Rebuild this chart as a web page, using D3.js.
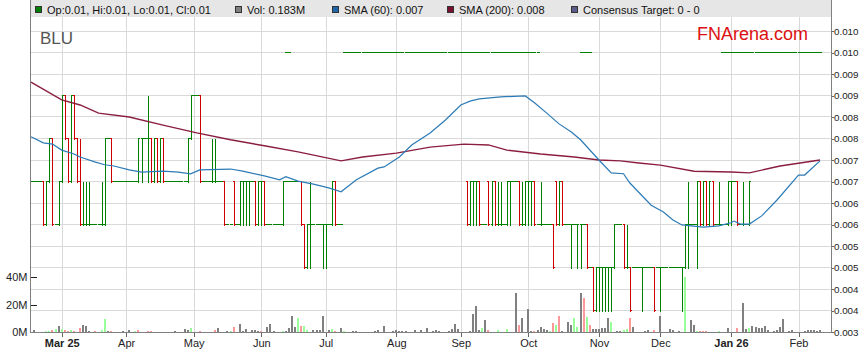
<!DOCTYPE html>
<html><head><meta charset="utf-8">
<script src="https://cdn.jsdelivr.net/npm/d3@7/dist/d3.min.js"></script>
<style>
body{margin:0;background:#fff;}
svg{display:block;font-family:Arial,"Liberation Sans",sans-serif;}
</style>
</head><body>
<svg id="chart" width="859" height="363"></svg>
<script>
// ---------------- DATA ----------------
const firstDay = '2025-02-17', lastDay = '2026-02-11';   // weekday category axis range
const tickDates  = ['2025-03-03','2025-04-01','2025-05-01','2025-06-02','2025-07-01','2025-08-01','2025-09-01','2025-10-01','2025-11-03','2025-12-01','2026-01-01','2026-02-02'];
const tickLabels = ['Mar 25','Apr','May','Jun','Jul','Aug','Sep','Oct','Nov','Dec','Jan 26','Feb'];
const yearLabels = ['Mar 25','Jan 26'];
const priceTicks = [0.0035,0.0040,0.0045,0.0050,0.0055,0.0060,0.0065,0.0070,0.0075,0.0080,0.0085,0.0090,0.0095,0.0100,0.0105];
const volTicks = [0,20,40];            // millions
const priceUnit = 0.001;               // OHLC tuples below are [open, high, low, close] in 0.001

// bars on consecutive weekdays starting 2025-02-17
const barsA = [
[7,7,7,7],[7,7,7,7],[7,7,7,7],[7,7,7,7],[7,7,6,6],[6,7,6,7],[7,8,7,8],[8,8,6,6],[6,6,6,6],[6,7,6,7],
[7,9,7,9],[9,9,8,8],[8,8,7,7],[7,9,7,9],[9,9,8,8],[8,8,7,7],[7,8,6,6],[6,7,6,6],[6,7,6,6],[6,7,6,6],
[6,6,6,6],[6,6,6,6],[6,6,6,6],[6,7,6,6],[6,8,6,8],[8,8,8,8],[8,8,7,7],[7,7,7,7],[7,7,7,7],[7,7,7,7],
[7,7,7,7],[7,7,7,7],[7,7,7,7],[7,7,7,7],[7,7,7,7],[7,8,7,8],[8,8,7,8],[8,8,8,8],[8,9,7,8],[8,8,7,7],
[7,8,7,8],[8,8,7,7],[7,8,7,8],[8,8,7,7],[7,7,7,7],[7,7,7,7],[7,7,7,7],[7,7,7,7],[7,7,7,7],[7,7,7,7],
[7,7,7,7],[7,8,7,8],[8,9,8,9],[9,9,9,9],[9,9,9,9],[9,9,7,7],[7,7,7,7],[7,7,7,7],[7,7,7,7],[7,8,7,7],
[7,8,7,7],[7,7,7,7],[7,7,7,7],[7,7,6,6],[6,6,6,6],[6,6,6,6],[7,7,6,6],[6,6,6,6],[6,7,6,7],[7,7,6,7],
[7,7,6,7],[7,7,6,7],[7,7,7,7],[7,7,6,6],[6,7,6,7],[7,7,6,7],[7,7,6,6],[6,6,6,6],[6,6,6,6],[6,6,6,6],
[6,6,6,6],[6,6,6,6],[6,7,6,7],[7,7,7,7],[7,7,7,7],[7,7,7,7],[7,7,7,7],[7,7,7,7],[7,7,6,6],[6,6,5,5],
[5,6,5,6],[6,7,5,6],[6,6,6,6],[6,6,6,6],[6,6,6,6],[6,6,5,6],[6,6,5,6],[6,6,6,6],[6,7,6,7],[7,7,6,6],
[6,6,6,6],[6,6,6,6]
];
const barsAStart = '2025-02-17';
// bars on consecutive weekdays starting 2025-09-03
const barsB = [
[7,7,6,6],[6,7,6,7],[7,7,6,7],[7,7,6,7],[7,7,6,6],[6,6,6,6],[6,6,6,6],[7,7,6,6],[6,7,6,7],[7,7,6,6],
[6,7,6,6],[6,7,6,6],[6,6,6,6],[6,7,6,7],[7,7,6,7],[7,7,7,7],[7,7,7,7],[7,7,6,6],[6,7,6,6],[6,7,6,7],
[7,7,6,7],[7,7,6,7],[7,7,6,6],[6,6,6,6],[6,7,6,6],[6,6,6,6],[6,6,6,6],[6,6,6,6],[6,6,5,5],[7,7,6,6],
[6,7,6,7],[7,7,6,6],[6,6,6,6],[6,6,6,6],[6,6,5,6],[6,6,6,6],[6,6,5,6],[6,6,5,6],[6,6,6,6],[6,6,5,5],
[5,5,5,5],[5,5,4,4],[4,5,4,5],[5,5,4,5],[5,5,4,5],[5,5,4,5],[5,5,4,5],[5,5,4,5],[5,6,5,6],[6,6,6,6],
[6,6,6,6],[6,6,5,5],[5,6,5,5],[5,5,4,4],[5,5,5,5],[5,5,5,5],[5,5,5,5],[5,5,4,5],[5,5,5,5],[5,5,5,5],
[5,5,5,5],[5,5,4,4],[5,5,5,5],[5,5,4,5],[5,5,5,5],[5,5,5,5],[5,5,5,5],[5,5,5,5],[5,5,5,5],[5,5,5,5],
[5,5,4,5],[5,6,5,6],[6,7,5,6],[6,6,6,6],[6,6,6,6],[6,7,5,7],[7,7,6,6],[6,7,6,7],[7,7,6,6],[6,7,6,7],
[7,7,6,6],[6,6,6,6],[6,7,6,6],[6,6,6,6],[6,6,6,6],[6,7,6,7],[7,7,6,7],[7,7,7,7],[7,7,6,6],[6,6,6,6],
[6,7,6,6],[6,6,6,6],[6,7,6,7]
];
const barsBStart = '2025-09-03';
// flat bars quoted at 0.010 (rounded feed), weekday ranges
const flatRanges = [['2025-06-12','2025-06-13'],['2025-07-09','2025-10-06'],['2025-10-24','2025-10-29'],['2025-12-29','2026-02-11']];
const flatPrice = 0.010;

// volume (millions), one value per weekday from 2025-02-17
const volume = [
0,1.5,0,0,0,0.7,0.7,1.5,2.2,4.1,
2.2,1.2,1.0,1.5,1.0,0,2.9,5.3,4.1,0.7,
0,1.0,0,1.5,9.2,0.7,0.7,0,0,0,
0.7,0,1.5,0,0.7,1.5,0,0,0.7,0.7,
0,0,0,0,0,0,0,0.7,0,0,
2.2,1.2,2.9,0,0,0.7,0,0,0,0,
1.5,2.9,0,0,0.7,0.7,3.6,0,5.6,1.0,
2.2,0,1.5,1.5,1.0,0.7,0,3.9,5.8,1.0,
0,0,0.7,1.0,2.9,11.4,3.6,10.2,4.4,4.4,
1.5,0,1.6,1.8,1.8,11.4,0,1.7,2.2,0.7,
0,2.7,0.7,0,0,0.7,0.7,0,0,0,
0,0,0.7,1.5,0,4.1,0,0,0.7,1.2,
0.7,0.7,0.7,0,0,1.5,0,1.5,0,2.9,
0,0.7,1.7,0.7,0,0,0.7,1.9,5.6,1.9,
0,0,0,0.5,12.8,18.7,1.7,2.7,8.5,1.5,
0,0,1.5,0,0,1.9,0,0,28.5,4.8,
9.9,0,16.5,0.7,1.0,1.7,3.4,2.4,1.7,0.5,
6.3,4.8,11.4,0.7,0,7.0,4.8,9.9,3.4,28.5,
25,10.7,4.8,2.4,2.4,2.4,2.9,2.9,10.2,7.3,
0,0.7,0.7,1.2,1.9,10.2,3.4,0,0,0,
0.7,1.2,0,1.2,0,11.4,0,0,1.9,1.2,
0,0.7,0,40,0,9.0,4.8,0.7,0.7,0.7,
0.7,0,0,0,0.7,0,0,2.9,0,0,
2.9,0,21,1.9,3.1,4.4,3.6,3.1,2.7,4.1,
1.5,0,0.7,1.7,3.4,9.2,0,0.7,1.5,0,
0,0,0.7,1.5,1.5,1.5,0.7,1.5
];
// day direction for volume colouring: 1 up, -1 down, 0 unchanged
const volDir = [
0,0,0,0,0,1,1,-1,1,0,
1,-1,-1,1,-1,0,-1,0,0,0,
0,-1,0,1,1,0,-1,0,0,0,
0,0,0,0,1,-1,0,0,-1,-1,
0,0,0,0,0,0,0,0,0,0,
0,0,1,0,0,-1,0,0,0,0,
-1,0,0,0,0,1,-1,0,0,0,
0,0,0,0,0,-1,0,0,0,0,
0,0,1,0,0,0,0,1,-1,1,
1,0,0,0,0,0,0,0,1,-1,
0,0,1,0,0,0,0,0,0,0,
0,0,0,0,0,0,0,0,0,0,
0,0,0,0,0,0,0,0,0,0,
0,0,0,0,0,0,0,0,0,0,
0,0,0,0,0,0,0,1,0,-1,
0,0,1,0,0,1,0,0,0,-1,
0,0,0,0,-1,0,0,0,0,1,
-1,1,-1,0,0,0,0,1,1,0,
-1,1,-1,0,0,0,0,0,0,1,
0,0,0,1,1,-1,0,0,0,0,
0,0,0,-1,0,0,0,0,0,0,
0,0,0,1,0,0,0,1,-1,-1,
-1,0,0,0,1,0,0,0,0,0,
-1,0,0,0,1,0,0,0,0,0,
0,0,0,0,0,0,0,0,0,0,
0,0,0,0,0,0,0,0
];

const sma200Dates = ['2025-02-17','2025-03-03','2025-03-11','2025-03-19','2025-04-02','2025-04-17','2025-05-02','2025-05-19','2025-06-03','2025-06-18','2025-07-08','2025-07-17','2025-08-01','2025-08-18','2025-09-02','2025-09-12','2025-09-22','2025-10-07','2025-10-22','2025-11-03','2025-11-12','2025-11-20','2025-12-01','2025-12-16','2026-01-01','2026-01-09','2026-01-23','2026-02-11'];
const sma200 = [0.00931,0.00890,0.00878,0.00859,0.00850,0.00831,0.00813,0.00797,0.00783,0.00769,0.00748,0.00757,0.00766,0.00780,0.00787,0.00785,0.00773,0.00764,0.00757,0.00750,0.00748,0.00743,0.00738,0.00724,0.00722,0.00720,0.00736,0.00750];

const sma60Dates = ['2025-02-17','2025-02-21','2025-02-26','2025-03-03','2025-03-07','2025-03-11','2025-03-18','2025-03-21','2025-03-26','2025-04-02','2025-04-08','2025-04-17','2025-04-24','2025-04-30','2025-05-05','2025-05-19','2025-05-23','2025-06-03','2025-06-10','2025-06-12','2025-06-18','2025-06-25','2025-07-02','2025-07-08','2025-07-15','2025-07-24','2025-07-28','2025-08-04','2025-08-08','2025-08-18','2025-08-25','2025-09-01','2025-09-04','2025-09-09','2025-09-18','2025-09-30','2025-10-03','2025-10-09','2025-10-15','2025-10-21','2025-10-24','2025-11-03','2025-11-07','2025-11-13','2025-11-17','2025-11-26','2025-12-02','2025-12-05','2025-12-10','2025-12-19','2025-12-26','2026-01-01','2026-01-02','2026-01-06','2026-01-09','2026-01-15','2026-01-22','2026-02-02','2026-02-04','2026-02-11'];
const sma60 = [0.00804,0.00790,0.00787,0.00773,0.00764,0.00757,0.00745,0.00739,0.00736,0.00727,0.00722,0.00724,0.00722,0.00718,0.00727,0.00729,0.00724,0.00713,0.00704,0.00711,0.00701,0.00694,0.00685,0.00676,0.00704,0.00731,0.00734,0.00757,0.00785,0.00813,0.00843,0.00878,0.00887,0.00892,0.00897,0.00899,0.00883,0.00859,0.00834,0.00815,0.00797,0.00750,0.00720,0.00718,0.00697,0.00645,0.00629,0.00611,0.00599,0.00594,0.00597,0.00604,0.00608,0.00601,0.00601,0.00620,0.00657,0.00715,0.00715,0.00748];

const legendItems = ['Op:0.01, Hi:0.01, Lo:0.01, Cl:0.01','Vol: 0.183M','SMA (60): 0.007','SMA (200): 0.008','Consensus Target: 0 - 0'];
const ticker = 'BLU';
const brand = 'FNArena.com';

// ---------------- LAYOUT ----------------
const L = 30, R = 831, TOP = 17, BASE = 332;
const C = {green:'#008000', red:'#cc0000', grid:'#d9d9d9', sma60:'#2c7bb6', sma200:'#8b1e3f',
  volN:'#808080', volU:'#99ff99', volD:'#ff9999', band:'#e6e6e6', axis:'#808080', text:'#222'};
const legendColors = [C.green, C.volN, '#1f66a8', '#7a1030', '#5c5c8a'];
const legendX = [35, 235, 332, 447, 571];

// weekday categories
const weekdays = [];
{
  const a = new Date(firstDay + 'T00:00:00Z'), b = new Date(lastDay + 'T00:00:00Z');
  for (let d = new Date(a); d <= b; d.setUTCDate(d.getUTCDate() + 1)) {
    const w = d.getUTCDay();
    if (w !== 0 && w !== 6) weekdays.push(d.toISOString().slice(0, 10));
  }
}
const dayIndex = new Map(weekdays.map((d, i) => [d, i]));

const x = d3.scaleLinear().domain([0, weekdays.length - 1]).range([31, 820]);
const y = d3.scaleLinear().domain([0.0035, 0.0105]).range([BASE, 31]);
const yv = d3.scaleLinear().domain([0, 40]).range([BASE, 277]);

const svg = d3.select('#chart');

// legend band
svg.append('rect').attr('x', L).attr('y', 0).attr('width', R - L).attr('height', TOP).attr('fill', C.band);

// grid
const g = svg.append('g').attr('shape-rendering', 'crispEdges');
g.selectAll('.hg').data(priceTicks).join('line')
  .attr('x1', L).attr('x2', R)
  .attr('y1', d => Math.floor(y(d)) + 0.5).attr('y2', d => Math.floor(y(d)) + 0.5)
  .attr('stroke', C.grid);
const tickIdx = tickDates.map(d => dayIndex.get(d));
g.selectAll('.vg').data(tickIdx).join('line')
  .attr('x1', d => Math.round(x(d)) + 0.5).attr('x2', d => Math.round(x(d)) + 0.5)
  .attr('y1', TOP).attr('y2', BASE)
  .attr('stroke', C.grid);

// titles
svg.append('text').attr('x', 40).attr('y', 44).attr('font-size', 17).attr('fill', '#555').text(ticker);
svg.append('text').attr('x', 808).attr('y', 40).attr('text-anchor', 'end').attr('font-size', 18).attr('fill', '#dd1111').text(brand);

// volume bars
const vg = svg.append('g').attr('shape-rendering', 'crispEdges');
vg.selectAll('rect').data(volume.map((v, i) => ({v, i, dir: volDir[i]})).filter(d => d.v > 0)).join('rect')
  .attr('x', d => Math.round(x(d.i)) - 1).attr('width', 2)
  .attr('y', d => yv(d.v)).attr('height', d => BASE - yv(d.v))
  .attr('fill', d => d.dir > 0 ? C.volU : d.dir < 0 ? C.volD : C.volN);

// price bars
function expand(bars, start) {
  const s = dayIndex.get(start);
  return bars.map((b, k) => ({i: s + k, o: b[0] * priceUnit, h: b[1] * priceUnit, l: b[2] * priceUnit, c: b[3] * priceUnit}));
}
let ohlc = expand(barsA, barsAStart).concat(expand(barsB, barsBStart));
flatRanges.forEach(([a, b]) => {
  for (let i = dayIndex.get(a); i <= dayIndex.get(b); i++) ohlc.push({i, o: flatPrice, h: flatPrice, l: flatPrice, c: flatPrice});
});
const pg = svg.append('g').attr('shape-rendering', 'crispEdges').attr('stroke-width', 1);
const py = v => Math.round(y(v) - 0.5) + 0.5;
ohlc.forEach(d => {
  const cx = Math.round(x(d.i));
  const col = d.c < d.o - 1e-9 ? C.red : C.green;
  if (d.h > d.l) pg.append('line').attr('x1', cx + 0.5).attr('x2', cx + 0.5).attr('y1', py(d.h)).attr('y2', py(d.l) + 1).attr('stroke', col);
  pg.append('line').attr('x1', cx - 1).attr('x2', cx + 1).attr('y1', py(d.o)).attr('y2', py(d.o)).attr('stroke', col);
  pg.append('line').attr('x1', cx).attr('x2', cx + 2).attr('y1', py(d.c)).attr('y2', py(d.c)).attr('stroke', col);
});

// SMA lines
const line = d3.line().x(d => x(d[0])).y(d => y(d[1]));
svg.append('path').datum(sma200Dates.map((d, k) => [dayIndex.get(d), sma200[k]]))
  .attr('d', line).attr('fill', 'none').attr('stroke', C.sma200).attr('stroke-width', 1.4);
svg.append('path').datum(sma60Dates.map((d, k) => [dayIndex.get(d), sma60[k]]))
  .attr('d', line).attr('fill', 'none').attr('stroke', C.sma60).attr('stroke-width', 1.2);

// axes
// price labels are shown truncated to three decimals, as on the original
const priceLabel = v => (Math.floor(v * 1000 + 1e-6) / 1000).toFixed(3);
const ax = svg.append('g').attr('font-family', 'Arial, "Liberation Sans", sans-serif');
const right = ax.append('g').attr('transform', `translate(${R + 0.5},0)`)
  .call(d3.axisRight(y).tickValues(priceTicks).tickFormat(priceLabel).tickSize(2).tickPadding(0.5));
const bottom = ax.append('g').attr('transform', `translate(0,${BASE + 0.5})`)
  .call(d3.axisBottom(x).tickValues(tickIdx).tickFormat((d, k) => tickLabels[k]).tickSize(4).tickPadding(3));
const left = ax.append('g').attr('transform', `translate(${L + 0.5},0)`)
  .call(d3.axisLeft(yv).tickValues(volTicks).tickFormat(d => d + 'M').tickSizeInner(-6).tickSizeOuter(0).tickPadding(3));
[right, bottom, left].forEach(a => {
  a.selectAll('text').attr('font-size', 11).attr('fill', C.text);
  a.selectAll('line').attr('stroke', '#666').attr('shape-rendering', 'crispEdges');
  a.select('.domain').remove();
});
right.selectAll('text').attr('font-size', 9.8);
bottom.selectAll('text').attr('font-weight', (d, k) => yearLabels.includes(tickLabels[k]) ? 'bold' : 'normal');
left.selectAll('line').attr('stroke', '#222');
// axis frame lines
const fr = svg.append('g').attr('shape-rendering', 'crispEdges').attr('stroke', C.axis);
fr.append('line').attr('x1', L + 0.5).attr('x2', L + 0.5).attr('y1', 0).attr('y2', BASE + 1);
fr.append('line').attr('x1', R + 0.5).attr('x2', R + 0.5).attr('y1', 0).attr('y2', BASE + 1);
fr.append('line').attr('x1', L).attr('x2', R + 1).attr('y1', BASE + 0.5).attr('y2', BASE + 0.5);

// legend
const lg = svg.append('g');
legendItems.forEach((t, k) => {
  lg.append('rect').attr('x', legendX[k] + 0.5).attr('y', 6.5).attr('width', 6).attr('height', 6)
    .attr('fill', legendColors[k]).attr('stroke', '#333').attr('stroke-width', 1).attr('shape-rendering', 'crispEdges');
  lg.append('text').attr('x', legendX[k] + 12).attr('y', 14).attr('font-size', 11).attr('fill', '#111').text(t);
});
</script>
</body></html>
